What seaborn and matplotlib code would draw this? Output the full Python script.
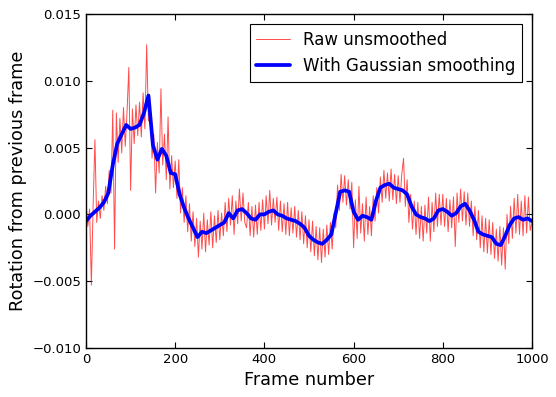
# Rotation per frame: raw vs smoothed
import numpy as np
import pandas as pd
import seaborn as sns
import matplotlib.pyplot as plt

## Data (rotation values in units of 1e-3)

raw_frames = list(range(0, 1001, 4))
raw_milli = [
    0.9, -0.9, 0.4, -5.3, 0.7, 5.6, -0.6, 1.0, -0.3, 1.4,
    0.3, 2.1, 0.8, 3.3, 1.6, 7.8, -2.6, 7.6, 3.9, 7.2,
    4.6, 8.0, 5.1, 7.7, 11.0, 1.8, 7.9, 5.3, 8.2, 5.9,
    8.4, 5.8, 9.1, 6.4, 12.7, 7.0, 8.3, 4.2, 6.0, 1.6,
    5.4, 3.1, 9.4, 3.7, 6.0, 2.6, 7.3, 1.9, 4.4, 2.0,
    4.0, 1.2, 4.1, 0.1, 2.0, -0.6, 1.4, -1.3, 0.8, -2.0,
    0.2, -2.4, -0.3, -3.2, -0.5, -2.6, 0.1, -2.8, -0.4, -2.3,
    0.2, -2.5, -0.1, -2.1, 0.3, -1.9, 0.1, -1.6, 0.9, -1.3,
    1.2, -0.8, 1.4, -1.5, 1.0, -0.7, 1.9, -0.5, 1.6, -0.6,
    -1.0, 0.9, -1.6, 0.6, -1.7, 0.7, -1.5, 0.9, -1.2, 1.1,
    -1.1, 1.4, -0.7, 1.8, -0.8, 1.2, -0.6, 1.3, -1.2, 1.0,
    -1.3, 0.8, -1.5, 0.9, -1.6, 0.5, -1.4, 0.6, -1.7, 0.3,
    -1.9, 0.2, -2.2, -0.1, -2.5, -0.4, -2.8, -0.5, -3.1, -0.9,
    -3.4, -1.0, -3.6, -1.1, -3.2, -0.8, -3.0, -0.6, -2.6, 0.1,
    -1.0, 2.2, 0.3, 3.0, 0.9, 2.9, 0.7, 2.6, 0.4, 2.4,
    -2.5, 1.1, -1.8, 2.1, -1.4, 0.8, -2.0, 1.3, -1.5, 0.6,
    -1.6, 1.4, -0.5, 2.0, 0.1, 2.8, 0.9, 3.3, 1.2, 3.1,
    1.0, 3.4, 1.1, 3.0, 0.8, 2.9, 0.9, 3.0, 4.2, 0.6,
    2.6, -0.6, 1.5, -1.1, 1.0, -1.5, 0.9, -1.8, 0.6, -2.0,
    0.7, -1.4, 1.3, -2.0, 0.9, -1.3, 1.6, -0.9, 1.5, -0.8,
    1.5, -0.9, 1.2, -1.3, 1.1, -1.0, 1.3, -2.4, 1.6, -0.6,
    1.9, -0.5, 1.7, -0.8, 1.6, -0.9, 1.0, -1.6, 0.6, -1.9,
    0.3, -2.5, -0.1, -2.8, -0.3, -2.9, -0.4, -3.0, -0.6, -3.3,
    -1.1, -3.5, -0.9, -3.8, -1.0, -4.1, 0.0, -2.2, 0.6, -1.8,
    1.2, -1.4, 1.5, -1.5, 1.0, -1.6, 1.4, -1.4, 1.3, -1.2,
    -0.6,
]

smooth_frames = list(range(0, 1001, 10))
smooth_milli = [
    -0.5, -0.1, 0.2, 0.5, 0.9, 1.6, 3.7, 5.3, 6.0, 6.7,
    6.4, 6.5, 6.7, 7.6, 8.9, 5.2, 4.1, 4.9, 4.4, 3.1,
    3.0, 1.5, 0.5, -0.3, -1.0, -1.7, -1.3, -1.4, -1.2, -1.0,
    -0.8, -0.6, 0.1, -0.3, 0.3, 0.4, 0.1, -0.3, -0.4, 0.0,
    0.0, 0.2, 0.3, 0.0, -0.1, -0.3, -0.4, -0.5, -0.7, -1.0,
    -1.6, -1.9, -2.1, -2.2, -1.9, -1.5, 0.1, 1.7, 1.8, 1.7,
    0.2, -0.4, -0.1, -0.2, -0.4, 1.0, 2.0, 2.2, 2.3, 2.0,
    1.9, 1.8, 1.5, 0.6, 0.0, -0.2, -0.3, -0.5, -0.3, 0.3,
    0.4, 0.2, -0.1, 0.1, 0.6, 0.8, 0.3, -0.4, -1.3, -1.5,
    -1.6, -1.7, -2.2, -2.3, -1.6, -0.8, -0.3, -0.2, -0.4, -0.3,
    -0.5,
]

df_raw = pd.DataFrame({'frame': raw_frames, 'rotation': np.array(raw_milli) * 1e-3})
df_smooth = pd.DataFrame({'frame': smooth_frames, 'rotation': np.array(smooth_milli) * 1e-3})

## Estilo
sns.set_style("ticks")
plt.rcParams['font.family'] = ['DejaVu Sans']
plt.rcParams['xtick.direction'] = 'in'
plt.rcParams['ytick.direction'] = 'in'
plt.rcParams['xtick.top'] = True
plt.rcParams['ytick.right'] = True
for k in ['text.color', 'axes.labelcolor', 'xtick.color', 'ytick.color']:
    plt.rcParams[k] = 'black'

fig = plt.figure(figsize=(5.56, 3.97), dpi=100)
ax = fig.add_axes([0.1547, 0.1234, 0.8021, 0.8413])

sns.lineplot(data=df_raw, x='frame', y='rotation', ax=ax,
             color='red', linewidth=0.7, alpha=0.7, label='Raw unsmoothed')
sns.lineplot(data=df_smooth, x='frame', y='rotation', ax=ax,
             color='blue', linewidth=2.7, label='With Gaussian smoothing')

ax.set_xlim(0, 1000)
ax.set_ylim(-0.010, 0.015)
ax.set_xticks([0, 200, 400, 600, 800, 1000])
ax.set_yticks([-0.010, -0.005, 0.000, 0.005, 0.010, 0.015])
ax.set_yticklabels(['\u22120.010', '\u22120.005', '0.000', '0.005', '0.010', '0.015'])
ax.tick_params(labelsize=9.5, length=4, width=0.8, color='black', labelcolor='black')
for s in ax.spines.values():
    s.set_color('black')
    s.set_linewidth(1)

ax.set_xlabel("Frame number", fontsize=12.7)
ax.set_ylabel("Rotation from previous frame", fontsize=12.7)

leg = ax.legend(loc='upper right', fontsize=12, fancybox=False, framealpha=1,
                edgecolor='black', handlelength=2.0, borderaxespad=0.6)
leg.get_frame().set_linewidth(0.8)

plt.savefig('out.png', dpi=100)
